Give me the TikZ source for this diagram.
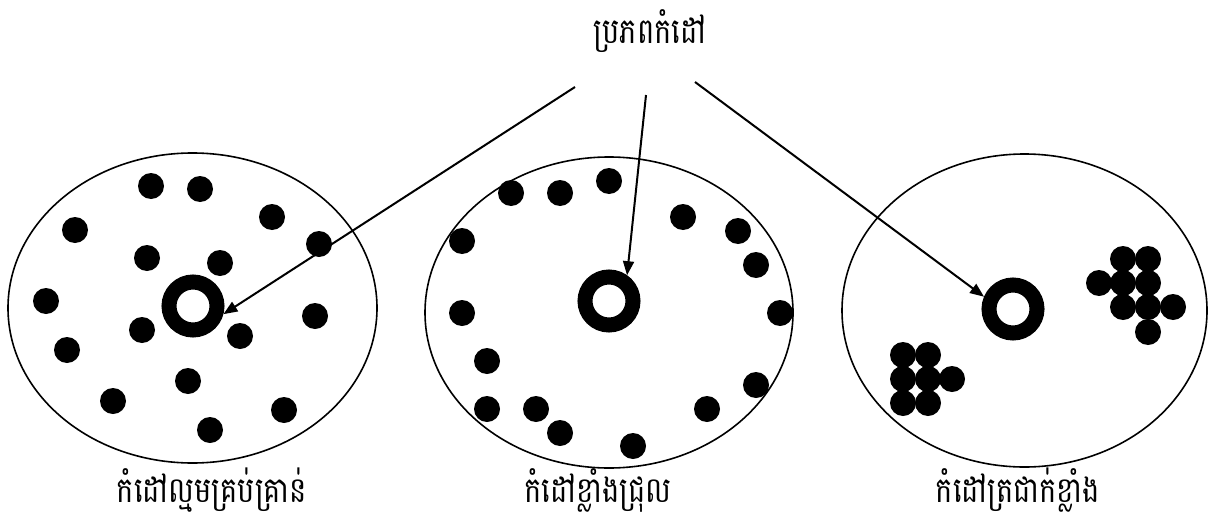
\documentclass[tikz,border=0pt]{standalone}
\usepackage{graphicx}
\usepackage{fontspec}
\newfontfamily\khmer[Script=Khmer]{Battambang}
\usetikzlibrary{arrows.meta}
\newcommand{\tall}[1]{\scalebox{1}[1.22]{#1}}
\tikzset{
  lbl/.style={font=\khmer\fontsize{29pt}{34pt}\selectfont, inner sep=0pt, anchor=base, text height=24pt, text depth=9pt},
  blob/.style={fill=black},
  ring/.style={circle, draw=black, line width=15pt, minimum size=48pt, inner sep=0pt},
  rim/.style={draw=black, line width=1.6pt},
  arr/.style={draw=black, line width=2pt, -{Triangle[length=14pt,width=11pt]}}
}
\begin{document}
\begin{tikzpicture}[x=1pt,y=-1pt]
\useasboundingbox (0,0) rectangle (1210,514);
% containers
\draw[rim] (192.5,308) ellipse [x radius=184.5pt, y radius=155pt];
\draw[rim] (609,312.5) ellipse [x radius=184pt, y radius=155.5pt];
\draw[rim] (1024.5,310.5) ellipse [x radius=182.5pt, y radius=156.5pt];
% dots ellipse 1
\foreach \p in {(151,186),(200,189),(75,230),(272,217),(319,244),(147,258),(220,263),(46,301),(315,316),(142,330),(240,336),(67,350),(188,381),(113,401),(284,410),(210,430)}
  \fill[blob] \p circle [radius=13pt];
% dots ellipse 2
\foreach \p in {(511,193),(560,193),(609,181),(683,217),(738,231),(756,265),(462,241),(462,313),(780,313),(487,361),(756,385),(487,409),(536,409),(707,409),(560,433),(633,446)}
  \fill[blob] \p circle [radius=13pt];
% clusters ellipse 3
\foreach \p in {(1123,259),(1148,259),(1099,283),(1123,283),(1148,283),(1123,307),(1148,307),(1173,307),(1148,332),(903,355),(928,355),(903,379),(928,379),(952,379),(903,403),(928,403)}
  \fill[blob] \p circle [radius=13pt];
% rings
\node[ring] (ring1) at (193,306) {};
\node[ring] (ring2) at (609,301) {};
\node[ring] (ring3) at (1013,309) {};
% title and labels
\node[lbl] (title) at (650,43) {\tall{ប្រភពកំដៅ}};
\node[lbl] (lab1) at (212,502) {\tall{កំដៅល្មមគ្រប់គ្រាន់}};
\node[lbl] (lab2) at (598,502) {\tall{កំដៅខ្លាំងជ្រុល}};
\node[lbl] (lab3) at (1018,502) {\tall{កំដៅត្រជាក់ខ្លាំង}};
% arrows
\coordinate (s1) at (575,87);
\coordinate (s2) at (646,95);
\coordinate (s3) at (695,82);
\draw[arr] (s1) -- (ring1.-15);
\draw[arr] (s2) -- (ring2.55);
\draw[arr] (s3) -- (ring3.157);
\end{tikzpicture}
\end{document}
